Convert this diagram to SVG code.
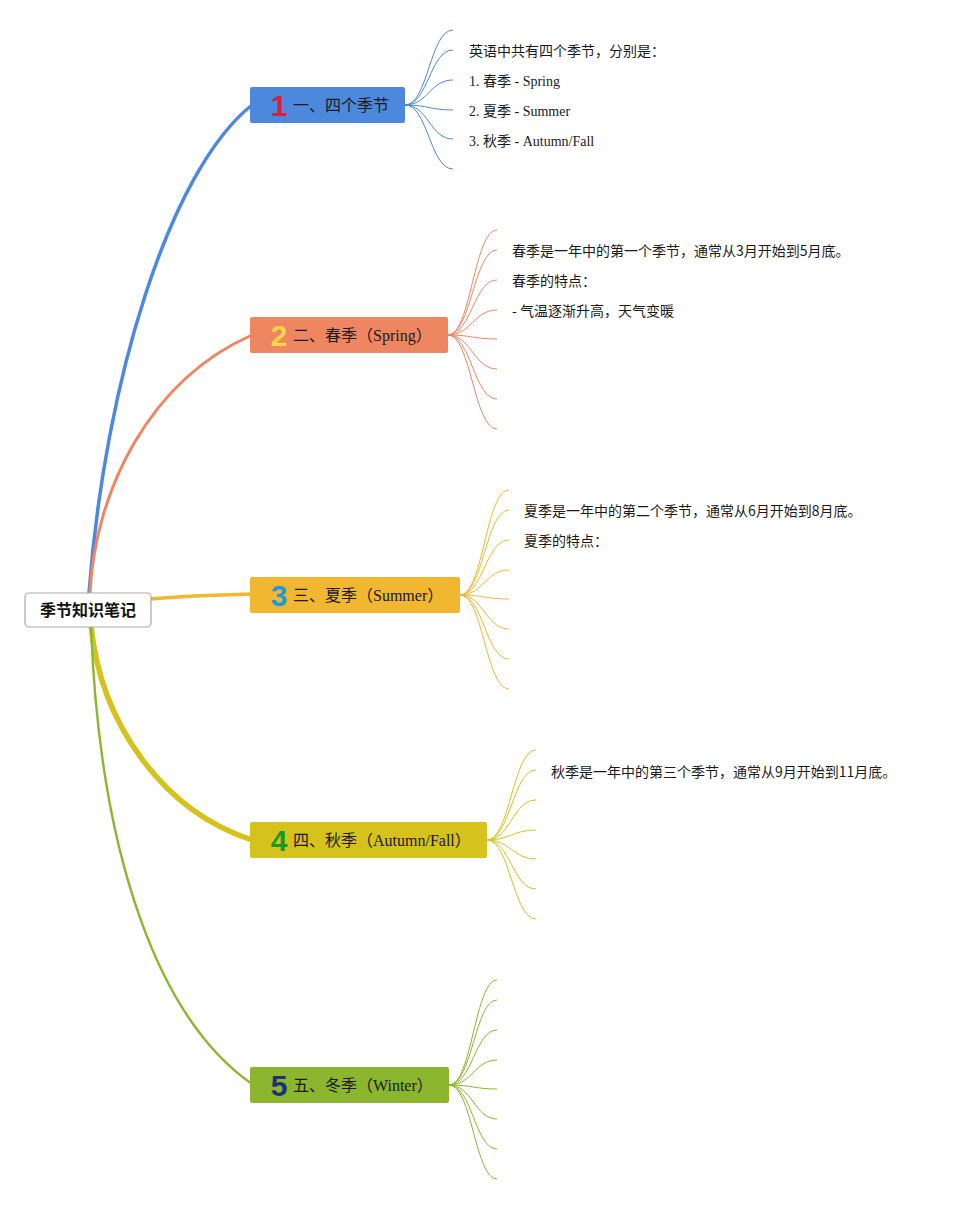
<svg xmlns="http://www.w3.org/2000/svg" width="954" height="1205" viewBox="0 0 954 1205">
<style>
.main{fill:none;stroke-linecap:round}
.leaf{fill:none;stroke-width:1}
.lbl{font-family:"Liberation Serif","Noto Sans CJK SC",serif;font-size:16px;fill:#1a1a1a}
.num{font-family:"Liberation Sans","DejaVu Sans",sans-serif;font-size:30px;font-weight:bold;text-anchor:middle}
.lt{font-family:"Liberation Serif","Noto Sans CJK SC",serif;font-size:14px;fill:#1a1a1a}
.lc{font-family:"Noto Sans CJK SC",sans-serif;font-size:14px;fill:#1a1a1a}
</style>
<rect width="954" height="1205" fill="#ffffff"/>
<g id="connectors">
  <path class="main" stroke="#4C88DC" stroke-width="3.5" d="M89 593 C105 380,170 170,252 105"/>
  <path class="main" stroke="#EF8662" stroke-width="3" d="M90 593 C95 490,150 380,252 335"/>
  <path class="main" stroke="#F1B730" stroke-width="3.5" d="M150 599 C185 596,215 595,252 594"/>
  <path class="main" stroke="#D5C21C" stroke-width="5.5" d="M91 625 C100 720,160 810,252 840"/>
  <path class="main" stroke="#8BB62E" stroke-width="2.4" d="M91 627 C100 860,160 1020,252 1084"/>
  <g stroke="#4C88DC" class="leaf">
    <path d="M405 105 C428 105,430 30,453 30"/>
    <path d="M405 105 C428 105,430 50,453 50"/>
    <path d="M405 105 C428 105,430 80,453 80"/>
    <path d="M405 105 C428 105,430 110,453 110"/>
    <path d="M405 105 C428 105,430 139,453 139"/>
    <path d="M405 105 C428 105,430 169,453 169"/>
  </g>
  <g stroke="#EF8662" class="leaf">
    <path d="M448 335 C471 335,474 230,497 230"/>
    <path d="M448 335 C471 335,474 250,497 250"/>
    <path d="M448 335 C471 335,474 280,497 280"/>
    <path d="M448 335 C471 335,474 310,497 310"/>
    <path d="M448 335 C471 335,474 339,497 339"/>
    <path d="M448 335 C471 335,474 369,497 369"/>
    <path d="M448 335 C471 335,474 399,497 399"/>
    <path d="M448 335 C471 335,474 429,497 429"/>
  </g>
  <g stroke="#F1B730" class="leaf">
    <path d="M460 595 C483 595,486 490,509 490"/>
    <path d="M460 595 C483 595,486 510,509 510"/>
    <path d="M460 595 C483 595,486 540,509 540"/>
    <path d="M460 595 C483 595,486 570,509 570"/>
    <path d="M460 595 C483 595,486 599,509 599"/>
    <path d="M460 595 C483 595,486 629,509 629"/>
    <path d="M460 595 C483 595,486 659,509 659"/>
    <path d="M460 595 C483 595,486 689,509 689"/>
  </g>
  <g stroke="#D5C21C" class="leaf">
    <path d="M487 840 C510 840,513 750,536 750"/>
    <path d="M487 840 C510 840,513 770,536 770"/>
    <path d="M487 840 C510 840,513 800,536 800"/>
    <path d="M487 840 C510 840,513 830,536 830"/>
    <path d="M487 840 C510 840,513 859,536 859"/>
    <path d="M487 840 C510 840,513 889,536 889"/>
    <path d="M487 840 C510 840,513 919,536 919"/>
  </g>
  <g stroke="#8BB62E" class="leaf">
    <path d="M449 1085 C472 1085,475 980,497 980"/>
    <path d="M449 1085 C472 1085,475 1000,497 1000"/>
    <path d="M449 1085 C472 1085,475 1030,497 1030"/>
    <path d="M449 1085 C472 1085,475 1060,497 1060"/>
    <path d="M449 1085 C472 1085,475 1089,497 1089"/>
    <path d="M449 1085 C472 1085,475 1119,497 1119"/>
    <path d="M449 1085 C472 1085,475 1149,497 1149"/>
    <path d="M449 1085 C472 1085,475 1179,497 1179"/>
  </g>
</g>
<g id="root">
  <rect x="25" y="593" width="126" height="34" rx="4" fill="#ffffff" stroke="#A9A9A9" stroke-width="1.2"/>
  <text x="88" y="616" text-anchor="middle" font-family="'Noto Sans CJK SC',sans-serif" font-size="16" font-weight="bold" fill="#111">季节知识笔记</text>
</g>
<g id="b1">
  <rect x="250" y="87" width="155" height="36" rx="2" fill="#4C88DC"/>
  <text class="num" x="279" y="116" fill="#D8203A">1</text>
  <text class="lbl" x="293" y="111">一、四个季节</text>
</g>
<g id="b1-leaves">
  <text class="lc" x="469" y="56">英语中共有四个季节，分别是：</text>
  <text class="lt" x="469" y="86">1. 春季 - Spring</text>
  <text class="lt" x="469" y="116">2. 夏季 - Summer</text>
  <text class="lt" x="469" y="146">3. 秋季 - Autumn/Fall</text>
</g>
<g id="b2">
  <rect x="250" y="317" width="198" height="36" rx="2" fill="#EF8662"/>
  <text class="num" x="279" y="346" fill="#F8D54A">2</text>
  <text class="lbl" x="293" y="341">二、春季（Spring）</text>
</g>
<g id="b2-leaves">
  <text class="lc" x="512" y="256">春季是一年中的第一个季节，通常从3月开始到5月底。</text>
  <text class="lc" x="512" y="286">春季的特点：</text>
  <text class="lc" x="512" y="316">- 气温逐渐升高，天气变暖</text>
</g>
<g id="b3">
  <rect x="250" y="577" width="210" height="36" rx="2" fill="#F1B730"/>
  <text class="num" x="279" y="606" fill="#1E9AD6">3</text>
  <text class="lbl" x="293" y="601">三、夏季（Summer）</text>
</g>
<g id="b3-leaves">
  <text class="lc" x="524" y="516">夏季是一年中的第二个季节，通常从6月开始到8月底。</text>
  <text class="lc" x="524" y="546">夏季的特点：</text>
</g>
<g id="b4">
  <rect x="250" y="822" width="237" height="36" rx="2" fill="#D5C21C"/>
  <text class="num" x="279" y="851" fill="#1A9A24">4</text>
  <text class="lbl" x="293" y="846">四、秋季（Autumn/Fall）</text>
</g>
<g id="b4-leaves">
  <text class="lc" x="551" y="777">秋季是一年中的第三个季节，通常从9月开始到11月底。</text>
</g>
<g id="b5">
  <rect x="250" y="1067" width="199" height="36" rx="2" fill="#8BB62E"/>
  <text class="num" x="279" y="1096" fill="#1F2F78">5</text>
  <text class="lbl" x="293" y="1091">五、冬季（Winter）</text>
</g>
</svg>
